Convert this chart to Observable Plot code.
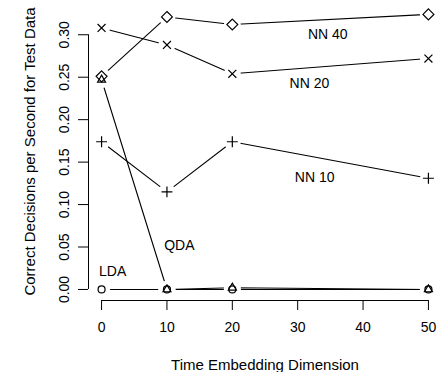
<!DOCTYPE html>
<html><head><meta charset="utf-8">
<script src="https://cdn.jsdelivr.net/npm/d3@7"></script>
<script src="https://cdn.jsdelivr.net/npm/@observablehq/plot@0.6"></script>
<style>html,body{margin:0;padding:0;background:#fff;}</style>
</head><body><div id="chart"></div>
<script>
// Time embedding dimension (x)
const dims = [0, 10, 20, 50];
// Correct decisions per second for test data (y)
const nn40 = [0.251, 0.321, 0.312, 0.324];
const nn20 = [0.308, 0.288, 0.254, 0.272];
const nn10 = [0.174, 0.115, 0.174, 0.131];
const qda  = [0.247, 0.000, 0.002, 0.000];
const lda  = [0.000, 0.000, 0.000, 0.000];

const seriesNames = ["NN 40", "NN 20", "NN 10", "QDA", "LDA"];
const seriesValues = [nn40, nn20, nn10, qda, lda];
const seriesSymbols = ["diamond2", "times", "plus", "triangle2", "circle"];
const seriesSymbolR = [4.9, 3.7, 3.6, 3.8, 3.5];

// in-plot series labels (data coordinates)
const labelX = [34.6, 31.8, 32.6, 11.9, 1.7];
const labelY = [0.300, 0.242, 0.132, 0.052, 0.021];

const xTitle = "Time Embedding Dimension";
const yTitle = "Correct Decisions per Second for Test Data";
const xTicks = [0, 10, 20, 30, 40, 50];
const yTicks = [0, 0.05, 0.10, 0.15, 0.20, 0.25, 0.30];
const xDomain = [-2, 52];
const yDomain = [-0.013, 0.338];

const rows = seriesNames.flatMap((name, i) =>
  dims.map((d, j) => ({series: name, dim: d, value: seriesValues[i][j]})));
const labelRows = seriesNames.map((name, i) => ({text: name, x: labelX[i], y: labelY[i]}));

const marks = [
  Plot.ruleY([yDomain[0]], {x1: xTicks[0], x2: xTicks[xTicks.length - 1], stroke: "black", strokeWidth: 1}),
  Plot.ruleX([xDomain[0]], {y1: yTicks[0], y2: yTicks[yTicks.length - 1], stroke: "black", strokeWidth: 1}),
  Plot.axisX({ticks: xTicks, tickSize: 10, tickPadding: 12, tickFormat: d => String(d), label: null}),
  Plot.axisY({ticks: yTicks, tickSize: 10, tickPadding: 10, tickFormat: d3.format(".2f"),
    tickRotate: -90, textAnchor: "middle", lineAnchor: "bottom", label: null}),
  Plot.text([xTitle], {text: d => d, frameAnchor: "bottom", textAnchor: "middle", lineAnchor: "bottom", dy: 69, fontSize: 15, fill: "black"}),
  Plot.text([yTitle], {text: d => d, frameAnchor: "left", textAnchor: "middle", lineAnchor: "bottom", rotate: -90, dx: -54, fontSize: 15, fill: "black"}),
  Plot.line(rows, {x: "dim", y: "value", z: "series", stroke: "black", strokeWidth: 1.1}),
  Plot.dot(rows, {x: "dim", y: "value", r: 8.5, fill: "white", stroke: "none"}),
  ...seriesNames.map((name, i) => Plot.dot(rows.filter(r => r.series === name), {
    x: "dim", y: "value", symbol: seriesSymbols[i], r: seriesSymbolR[i],
    stroke: "black", fill: "none", strokeWidth: 1.2
  })),
  Plot.text(labelRows, {x: "x", y: "y", text: "text", fill: "black"})
];

const chart = Plot.plot({
  width: 445,
  height: 372,
  marginLeft: 88,
  marginRight: 4,
  marginTop: 2,
  marginBottom: 72,
  x: {domain: xDomain},
  y: {domain: yDomain},
  style: {fontFamily: "'Liberation Sans', Arial, Helvetica, sans-serif", fontSize: "14px", color: "black", background: "white"},
  marks
});
document.getElementById("chart").appendChild(chart);
</script>
</body></html>
